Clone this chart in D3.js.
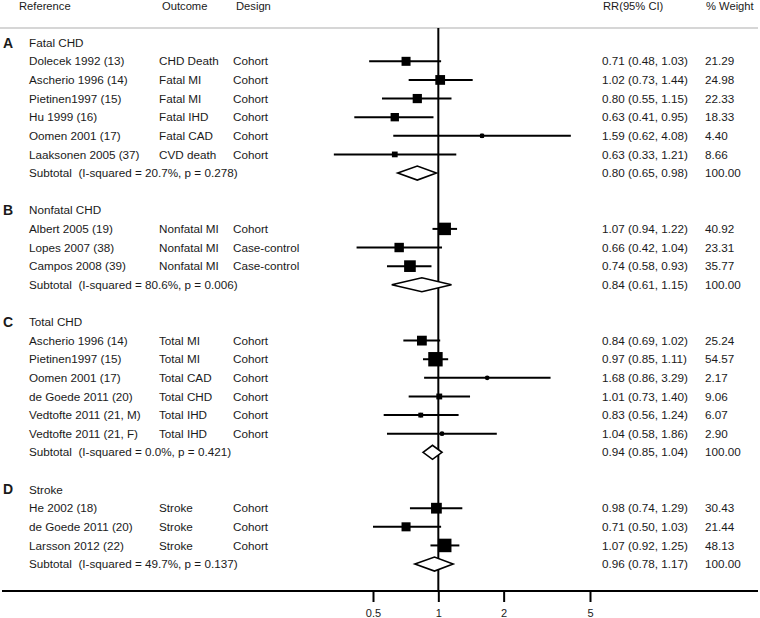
<!DOCTYPE html>
<html>
<head>
<meta charset="utf-8">
<script src="https://cdn.jsdelivr.net/npm/d3@7"></script>
<style>
  html, body { margin: 0; padding: 0; background: #fff; }
  svg { display: block; font-family: "Liberation Sans", Arial, sans-serif; }
  svg text { white-space: pre; }
</style>
</head>
<body>
<svg id="chart" width="760" height="618"></svg>
<script>
// ---------------- DATA ----------------
const headers = ["Reference", "Outcome", "Design", "RR(95% CI)", "% Weight"];

const groupLetters = ["A", "B", "C", "D"];
const groupNames = ["Fatal CHD", "Nonfatal CHD", "Total CHD", "Stroke"];

const studyGroup = [0,0,0,0,0,0, 1,1,1, 2,2,2,2,2,2, 3,3,3];
const studyNames = [
  "Dolecek 1992 (13)", "Ascherio 1996 (14)", "Pietinen1997 (15)", "Hu 1999 (16)", "Oomen 2001 (17)", "Laaksonen 2005 (37)",
  "Albert 2005 (19)", "Lopes 2007 (38)", "Campos 2008 (39)",
  "Ascherio 1996 (14)", "Pietinen1997 (15)", "Oomen 2001 (17)", "de Goede 2011 (20)", "Vedtofte 2011 (21, M)", "Vedtofte 2011 (21, F)",
  "He 2002 (18)", "de Goede 2011 (20)", "Larsson 2012 (22)"
];
const outcomes = [
  "CHD Death", "Fatal MI", "Fatal MI", "Fatal IHD", "Fatal CAD", "CVD death",
  "Nonfatal MI", "Nonfatal MI", "Nonfatal MI",
  "Total MI", "Total MI", "Total CAD", "Total CHD", "Total IHD", "Total IHD",
  "Stroke", "Stroke", "Stroke"
];
const designs = [
  "Cohort", "Cohort", "Cohort", "Cohort", "Cohort", "Cohort",
  "Cohort", "Case-control", "Case-control",
  "Cohort", "Cohort", "Cohort", "Cohort", "Cohort", "Cohort",
  "Cohort", "Cohort", "Cohort"
];
const rr    = [0.71, 1.02, 0.80, 0.63, 1.59, 0.63,  1.07, 0.66, 0.74,  0.84, 0.97, 1.68, 1.01, 0.83, 1.04,  0.98, 0.71, 1.07];
const ciLow = [0.48, 0.73, 0.55, 0.41, 0.62, 0.33,  0.94, 0.42, 0.58,  0.69, 0.85, 0.86, 0.73, 0.56, 0.58,  0.74, 0.50, 0.92];
const ciHigh= [1.03, 1.44, 1.15, 0.95, 4.08, 1.21,  1.22, 1.04, 0.93,  1.02, 1.11, 3.29, 1.40, 1.24, 1.86,  1.29, 1.03, 1.25];
const weights = [21.29, 24.98, 22.33, 18.33, 4.40, 8.66,  40.92, 23.31, 35.77,  25.24, 54.57, 2.17, 9.06, 6.07, 2.90,  30.43, 21.44, 48.13];

const subtotalLabels = [
  "Subtotal  (I-squared = 20.7%, p = 0.278)",
  "Subtotal  (I-squared = 80.6%, p = 0.006)",
  "Subtotal  (I-squared = 0.0%, p = 0.421)",
  "Subtotal  (I-squared = 49.7%, p = 0.137)"
];
const subRR    = [0.80, 0.84, 0.94, 0.96];
const subLow   = [0.65, 0.61, 0.85, 0.78];
const subHigh  = [0.98, 1.15, 1.04, 1.17];
const subWeight = [100.00, 100.00, 100.00, 100.00];

const tickValues = [0.5, 1, 2, 5];

// ---------------- LAYOUT ----------------
const svg = d3.select("#chart");
const fmt2 = d3.format(".2f");
const ciText = (e, l, h) => `${fmt2(e)} (${fmt2(l)}, ${fmt2(h)})`;

// build row list
const rows = [];
groupLetters.forEach((g, gi) => {
  rows.push({type: "group", g: gi});
  studyNames.forEach((n, i) => { if (studyGroup[i] === gi) rows.push({type: "study", i}); });
  rows.push({type: "subtotal", g: gi});
  if (gi < groupLetters.length - 1) rows.push({type: "blank"});
});

const y = d3.scaleLinear().domain([0, rows.length - 1]).range([42.7, 42.7 + (rows.length - 1) * 18.62]);
const x = d3.scaleLog().domain([0.5, 5]).range([373, 590]);
const boxSide = d3.scaleSqrt().domain([0, 100]).range([0, 19.5]);

const colX = {ref: 29, outcome: 159, design: 233, rr: 602, weight: 705};
const axisY = 591;
const textColor = "#1a1a1a";
const bodyFont = 11.7;

// header
const hdr = svg.append("g").attr("fill", textColor).style("font-size", "11.2px");
[[19, headers[0]], [162, headers[1]], [236, headers[2]], [603, headers[3]], [706, headers[4]]].forEach(([hx, t]) => {
  hdr.append("text").attr("x", hx).attr("y", 6).attr("dy", "0.35em").text(t);
});

// separator
svg.append("line").attr("x1", 0).attr("x2", 758).attr("y1", 28).attr("y2", 28)
  .attr("stroke", "#c8c8c8").attr("stroke-width", 1.5);

// reference line at 1
svg.append("line").attr("x1", x(1)).attr("x2", x(1)).attr("y1", 28).attr("y2", axisY)
  .attr("stroke", "#000").attr("stroke-width", 2);

const body = svg.append("g").style("font-size", bodyFont + "px").attr("fill", textColor);

rows.forEach((r, ri) => {
  const yy = y(ri);
  if (r.type === "group") {
    body.append("text").attr("x", 3).attr("y", yy).attr("dy", "0.35em")
      .style("font-size", "14px").style("font-weight", "bold").text(groupLetters[r.g]);
    body.append("text").attr("x", colX.ref).attr("y", yy).attr("dy", "0.35em").text(groupNames[r.g]);
  } else if (r.type === "study") {
    const i = r.i;
    body.append("text").attr("x", colX.ref).attr("y", yy).attr("dy", "0.35em").text(studyNames[i]);
    body.append("text").attr("x", colX.outcome).attr("y", yy).attr("dy", "0.35em").text(outcomes[i]);
    body.append("text").attr("x", colX.design).attr("y", yy).attr("dy", "0.35em").text(designs[i]);
    body.append("text").attr("x", colX.rr).attr("y", yy).attr("dy", "0.35em").text(ciText(rr[i], ciLow[i], ciHigh[i]));
    body.append("text").attr("x", colX.weight).attr("y", yy).attr("dy", "0.35em").text(fmt2(weights[i]));
    // CI line
    svg.append("line").attr("x1", x(ciLow[i])).attr("x2", x(ciHigh[i])).attr("y1", yy).attr("y2", yy)
      .attr("stroke", "#000").attr("stroke-width", 2);
    const s = boxSide(weights[i]);
    svg.append("rect").attr("x", x(rr[i]) - s / 2).attr("y", yy - s / 2).attr("width", s).attr("height", s)
      .attr("fill", "#000");
    svg.append("circle").attr("cx", x(rr[i])).attr("cy", yy).attr("r", 2.4).attr("fill", "#000");
  } else if (r.type === "subtotal") {
    const g = r.g;
    body.append("text").attr("x", colX.ref).attr("y", yy).attr("dy", "0.35em")
      .attr("xml:space", "preserve").text(subtotalLabels[g]);
    body.append("text").attr("x", colX.rr).attr("y", yy).attr("dy", "0.35em").text(ciText(subRR[g], subLow[g], subHigh[g]));
    body.append("text").attr("x", colX.weight).attr("y", yy).attr("dy", "0.35em").text(fmt2(subWeight[g]));
    const h = 7;
    const pts = [[x(subLow[g]), yy], [x(subRR[g]), yy - h], [x(subHigh[g]), yy], [x(subRR[g]), yy + h]];
    svg.append("path").attr("d", d3.line()(pts) + "Z")
      .attr("fill", "#fff").attr("stroke", "#000").attr("stroke-width", 1.6);
  }
});

// axis
svg.append("line").attr("x1", 2).attr("x2", 758).attr("y1", axisY).attr("y2", axisY)
  .attr("stroke", "#000").attr("stroke-width", 2);
const axis = d3.axisBottom(x).tickValues(tickValues).tickFormat(d => d3.format("")(d)).tickSize(11).tickPadding(7);
const ax = svg.append("g").attr("transform", `translate(0,${axisY})`).call(axis);
ax.select(".domain").remove();
ax.selectAll(".tick line").attr("stroke", "#000").attr("stroke-width", 2);
ax.selectAll(".tick text").attr("fill", textColor).style("font-size", "11px")
  .style("font-family", '"Liberation Sans", Arial, sans-serif');
</script>
</body>
</html>
